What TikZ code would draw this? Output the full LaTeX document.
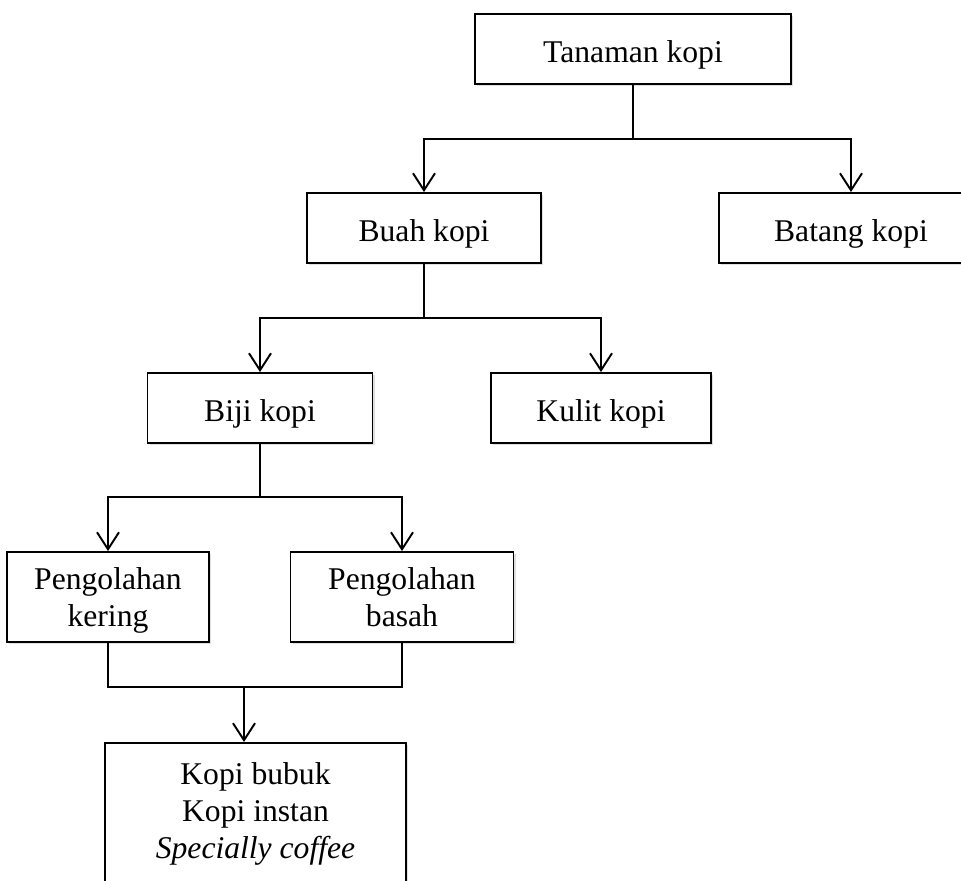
\documentclass[tikz,border=0pt]{standalone}
\usepackage{fontspec}
\setmainfont{Liberation Serif}
\usetikzlibrary{arrows.meta,shadows}

\begin{document}
\begin{tikzpicture}[x=0.02cm, y=-0.02cm,
  kotak/.style={draw=black, line width=1.1pt, fill=white, align=center,
                font=\fontsize{18}{21}\selectfont, inner sep=2pt, minimum height=1.4cm,
                text height=15pt, text depth=0pt,
                drop shadow={opacity=0.25, shadow xshift=1.2pt, shadow yshift=-1.2pt}},
  duabaris/.style={kotak, minimum height=1.8cm, text height=34pt},
  garis/.style={line width=1.1pt, black},
  panah/.style={garis, -{Straight Barb[length=3.4mm, width=4.4mm, line width=1.1pt]}}]
  \useasboundingbox (0,0) rectangle (961,881);
  \node[kotak, minimum width=6.32cm] (tanaman) at (633,49)  {Tanaman kopi};
  \node[kotak, minimum width=4.68cm] (buah)    at (424,228) {Buah kopi};
  \node[kotak, minimum width=5.28cm] (batang)  at (851,228) {Batang kopi};
  \node[kotak, minimum width=4.5cm]  (biji)    at (260,408) {Biji kopi};
  \node[kotak, minimum width=4.4cm]  (kulit)   at (601,408) {Kulit kopi};
  \node[duabaris, minimum width=4.04cm] (kering) at (108,597) {Pengolahan\\kering};
  \node[duabaris, minimum width=4.46cm] (basah)  at (402,597) {Pengolahan\\basah};
  \node[kotak, minimum width=6.02cm, minimum height=2.84cm, text height=, text depth=,
        anchor=north] (produk) at (255.5,742)
       {Kopi bubuk\\Kopi instan\\\textit{Specially coffee}};
  \coordinate (cabang1) at (633,139);
  \coordinate (cabang2) at (424,318);
  \coordinate (cabang3) at (260,497);
  \coordinate (gabung)  at (244,687);
  \draw[panah] (tanaman.south) -- (cabang1) -| (buah.north);
  \draw[panah] (cabang1) -| (batang.north);
  \draw[panah] (buah.south) -- (cabang2) -| (biji.north);
  \draw[panah] (cabang2) -| (kulit.north);
  \draw[panah] (biji.south) -- (cabang3) -| (kering.north);
  \draw[panah] (cabang3) -| (basah.north);
  \draw[garis] (kering.south) |- (gabung);
  \draw[garis] (basah.south) |- (gabung);
  \draw[panah] (gabung) -- (gabung |- produk.north);
\end{tikzpicture}
\end{document}
